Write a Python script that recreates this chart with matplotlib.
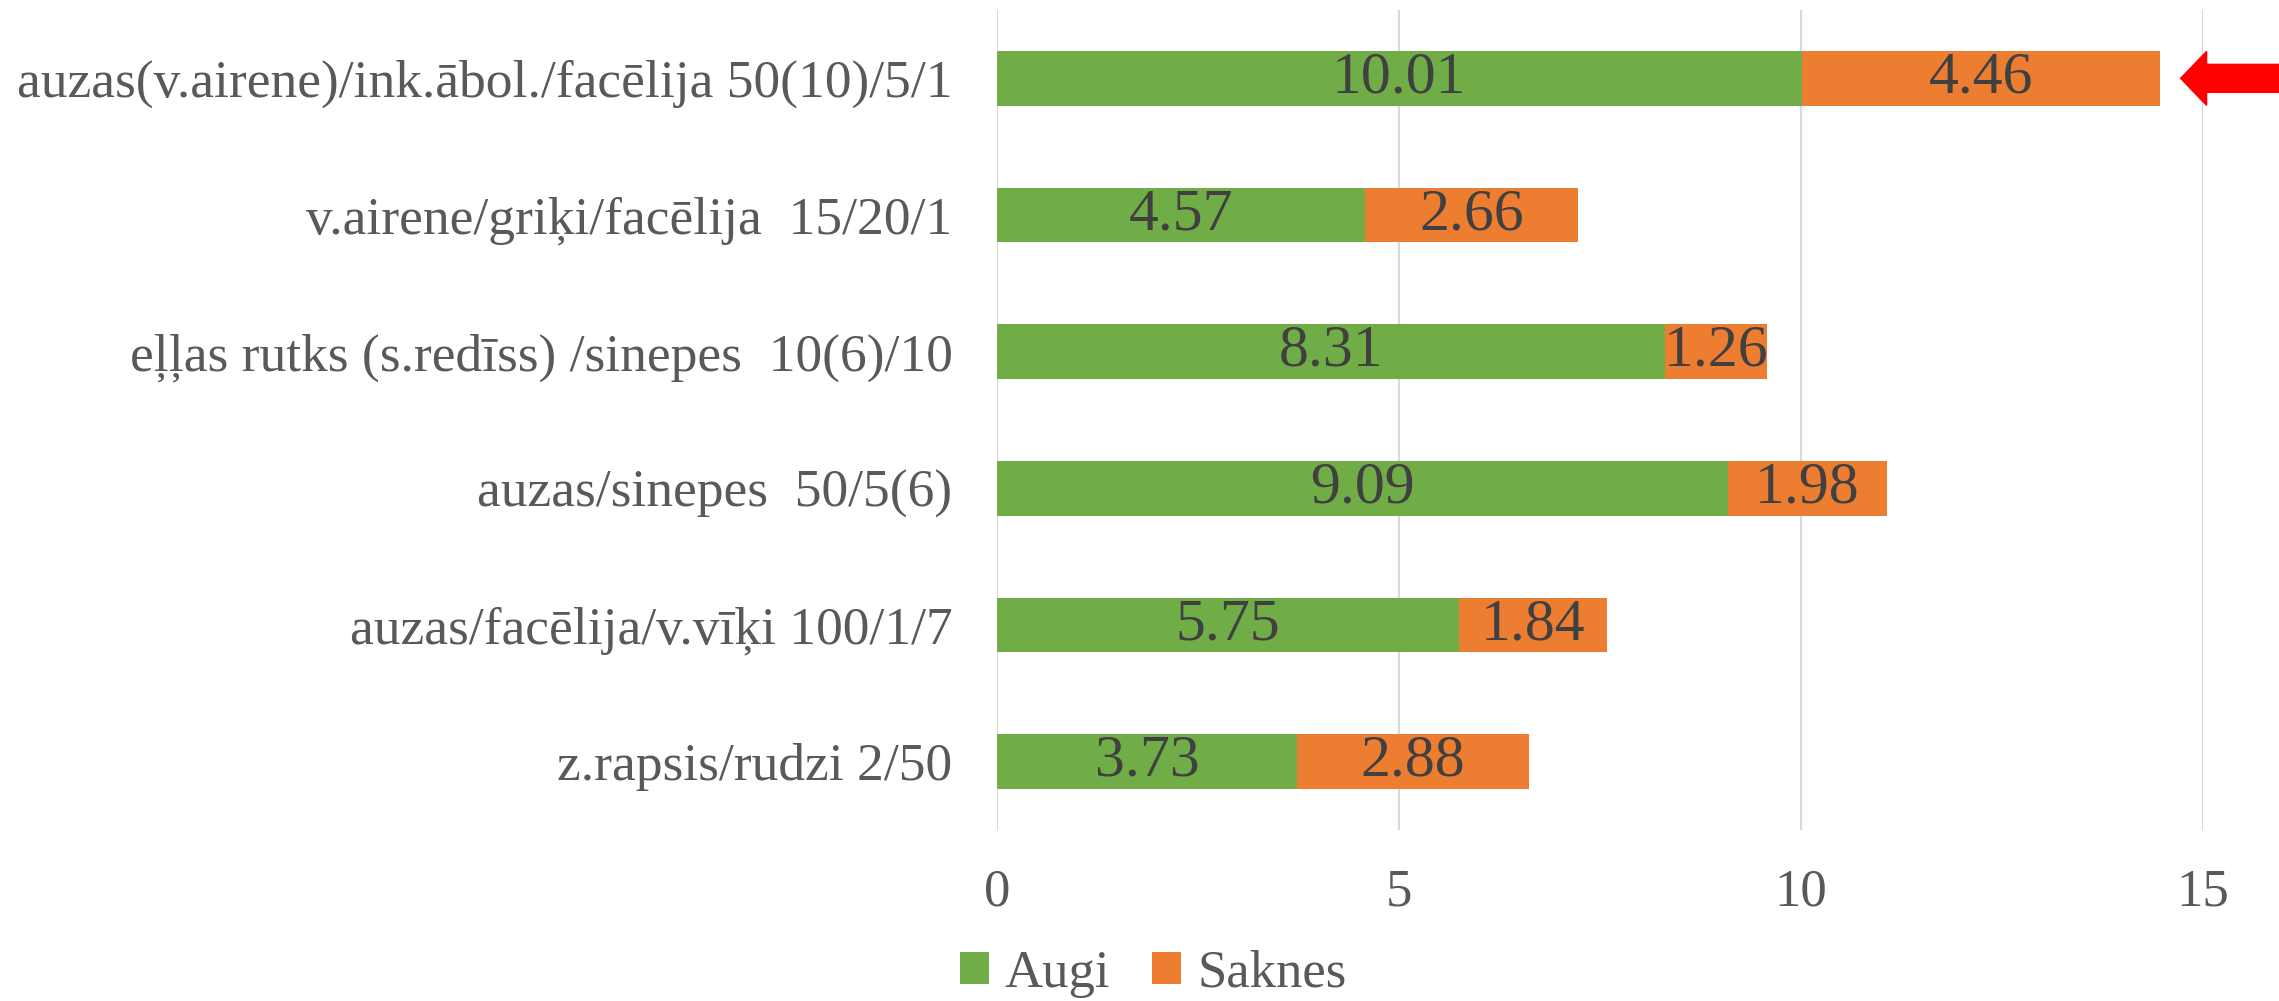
import numpy as np
import matplotlib.pyplot as plt
from matplotlib.patches import Polygon

# data (top to bottom as shown)
labels = ["auzas(v.airene)/ink.ābol./facēlija 50(10)/5/1",
          "v.airene/griķi/facēlija  15/20/1",
          "eļļas rutks (s.redīss) /sinepes  10(6)/10",
          "auzas/sinepes  50/5(6)",
          "auzas/facēlija/v.vīķi 100/1/7",
          "z.rapsis/rudzi 2/50"]
augi = [10.01, 4.57, 8.31, 9.09, 5.75, 3.73]
saknes = [4.46, 2.66, 1.26, 1.98, 1.84, 2.88]
xticks = [0, 5, 10, 15]

plt.rcParams['font.family'] = ['Liberation Serif', 'DejaVu Serif']
green = '#70AD47'
orange = '#ED7D31'

fig = plt.figure(figsize=(22.79, 10.01), dpi=100)
ax = fig.add_axes([0.4375, 0.1708, 0.9667 - 0.4375, 0.990 - 0.1708])

y = np.arange(len(labels))
b1 = ax.barh(y, augi, height=0.4, color=green, label='Augi')
b2 = ax.barh(y, saknes, left=augi, height=0.4, color=orange, label='Saknes')
ax.bar_label(b1, labels=[f"{v:.2f}" for v in augi], label_type='center',
             fontsize=43, color='#404040')
ax.bar_label(b2, labels=[f"{v:.2f}" for v in saknes], label_type='center',
             fontsize=43, color='#404040')

ax.set_ylim(len(labels) - 0.5, -0.5)
ax.set_xlim(0, 15)
ax.set_yticks(y)
ax.set_yticklabels(labels)
ax.set_xticks(xticks)
ax.tick_params(axis='y', length=0, pad=32, labelsize=38.5, labelcolor='#595959')
ax.tick_params(axis='x', length=0, pad=28, labelsize=38, labelcolor='#595959')
ax.grid(axis='x', color='#D9D9D9', linewidth=1.5)
ax.set_axisbelow(True)
for s in ax.spines.values():
    s.set_visible(False)

fig.legend(handles=[b1, b2], loc='center', bbox_to_anchor=(0.506, 0.027),
           ncol=2, frameon=False, fontsize=38, handlelength=0.55, handleheight=0.55,
           handletextpad=0.3, columnspacing=0.8, labelcolor='#595959')

# red arrow pointing at the top bar
tx, ty = ax.transData.transform((augi[0] + saknes[0] + 0.25, 0))
verts = [(tx, ty), (tx + 26, ty + 27), (tx + 26, ty + 14), (2300, ty + 14),
         (2300, ty - 14), (tx + 26, ty - 14), (tx + 26, ty - 27)]
fig.patches.append(Polygon(verts, closed=True, color='#FF0000', transform=None))

fig.savefig('out.png', dpi=100)
